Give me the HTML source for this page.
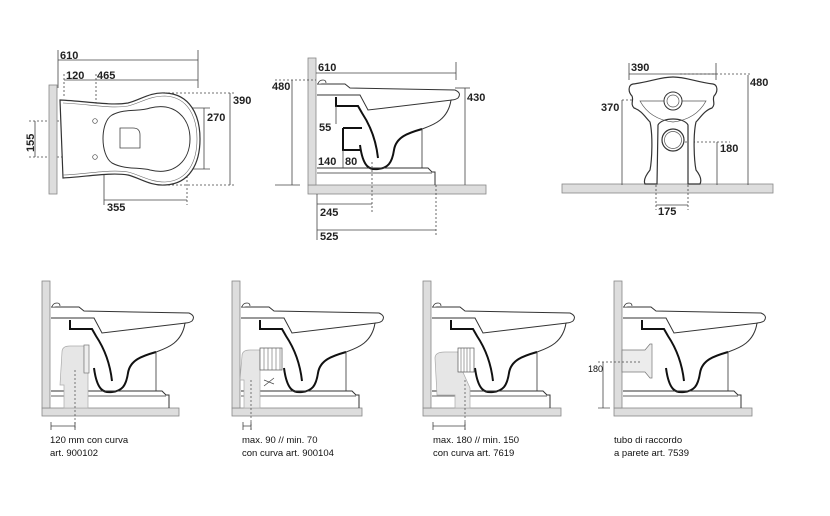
<!DOCTYPE html>
<html><head><meta charset="utf-8"><style>
html,body{margin:0;padding:0;background:#fff}
svg{display:block}
text{font-family:"Liberation Sans",Arial,sans-serif;font-weight:bold;fill:#222}
.d{font-size:11px}
.l{font-size:9.5px;font-weight:normal;fill:#111}
</style></head><body>
<svg width="830" height="516" viewBox="0 0 830 516" xmlns="http://www.w3.org/2000/svg">
<defs>
<g id="wc">
  <path d="M9,-101 L37,-101 L42,-97 L147,-95 Q154,-92 150,-87 Q147,-85 143,-85 C140,-65 125,-60 114,-56 L114,-17 L9,-17 Z" fill="#fff" stroke="none"/>
  <path d="M9,-101 L37,-101 L42,-97 L147,-95 Q154,-92 150,-87 Q147,-85 143,-85" fill="none" stroke="#333" stroke-width="1"/>
  <path d="M10,-101 q1,-4 5,-4 q3,0 3,3" fill="#fff" stroke="#333" stroke-width="0.8"/>
  <path d="M9,-90 L52,-90 L60,-75 L144,-85" fill="none" stroke="#333" stroke-width="1"/>
  <path d="M143,-85 C140,-65 125,-60 114,-56" fill="none" stroke="#333" stroke-width="1"/>
  <path d="M28,-88 L28,-79 L50,-79 L54,-72 C62,-60 68,-45 70,-27" fill="none" stroke="#111" stroke-width="2"/>
  <path d="M52,-40 C55,-17 62,-15 70,-16 C80,-17 84,-22 86,-35 C88,-48 100,-52 114,-56" fill="none" stroke="#111" stroke-width="2"/>
  <path d="M114,-56 L114,-17" fill="none" stroke="#333" stroke-width="0.8"/>
  <path d="M9,-17 L120,-17 L124,-13 L127,-13 L127,0" fill="none" stroke="#333" stroke-width="1"/>
  <path d="M9,-12 L124,-12" fill="none" stroke="#333" stroke-width="0.8"/>
  <rect x="0" y="-127" width="8" height="127" fill="#ddd" stroke="#888" stroke-width="0.8"/>
</g>
</defs>

<!-- PLAN VIEW -->
<g stroke="#444" stroke-width="0.8" fill="none">
  <line x1="58" y1="50" x2="58" y2="88"/><line x1="198" y1="50" x2="198" y2="88"/>
  <line x1="58" y1="60" x2="198" y2="60"/>
  <line x1="64" y1="80" x2="198" y2="80"/>
  <line x1="64" y1="74" x2="64" y2="96" stroke-dasharray="2,2"/>
  <line x1="96" y1="74" x2="96" y2="118" stroke-dasharray="2,2"/>
  <line x1="29" y1="121" x2="92" y2="121" stroke-dasharray="2,2"/>
  <line x1="29" y1="157" x2="92" y2="157" stroke-dasharray="2,2"/>
  <line x1="35" y1="121" x2="35" y2="157"/>
  <line x1="160" y1="93" x2="235" y2="93" stroke-dasharray="2,2"/>
  <line x1="160" y1="185" x2="235" y2="185" stroke-dasharray="2,2"/>
  <line x1="230" y1="93" x2="230" y2="185"/>
  <line x1="190" y1="108" x2="210" y2="108"/>
  <line x1="190" y1="169" x2="210" y2="169"/>
  <line x1="204" y1="108" x2="204" y2="169"/>
  <line x1="104" y1="160" x2="104" y2="205"/>
  <line x1="187" y1="140" x2="187" y2="205" stroke-dasharray="2,2"/>
  <line x1="104" y1="200" x2="187" y2="200"/>
</g>
<rect x="49" y="85" width="8" height="109" fill="#ddd" stroke="#888" stroke-width="0.8"/>
<path d="M60,100 C85,101 110,106 128,103 C140,100 150,92 165,93 C190,94 200,115 200,139 C200,163 190,184 165,185 C150,186 140,178 128,175 C110,172 85,177 63,178 Z" fill="#fff" stroke="#333" stroke-width="1.2"/>
<path d="M63,103 C88,104 110,109 128,106 C140,103 150,96 165,96 C188,97 197,117 197,139 C197,161 188,181 165,182 C150,182 140,175 128,172 C110,169 88,174 63,175" fill="none" stroke="#666" stroke-width="0.6"/>
<path d="M112,115 C125,108 140,112 150,108 C175,102 190,118 190,139 C190,160 175,176 150,170 C140,167 125,170 112,163 C100,155 100,122 112,115 Z" fill="#fff" stroke="#333" stroke-width="1"/>
<path d="M120,128 L133,128 Q140,128 140,135 L140,148 L120,148 Z" fill="none" stroke="#444" stroke-width="0.8"/>
<circle cx="95" cy="121" r="2.3" fill="#fff" stroke="#444" stroke-width="0.7"/>
<circle cx="95" cy="157" r="2.3" fill="#fff" stroke="#444" stroke-width="0.7"/>
<text class="d" x="60" y="59">610</text>
<text class="d" x="66" y="79">120</text>
<text class="d" x="97" y="79">465</text>
<text class="d" x="233" y="104">390</text>
<text class="d" x="207" y="121">270</text>
<text class="d" x="107" y="211">355</text>
<text class="d" transform="translate(34,152) rotate(-90)">155</text>

<!-- SIDE VIEW TOP -->
<rect x="308" y="185" width="178" height="9" fill="#ddd" stroke="#888" stroke-width="0.8"/>
<use href="#wc" transform="translate(308,185)"/>
<path d="M343,128 L362,128 M343,128 L343,150 L360,150" fill="none" stroke="#111" stroke-width="2"/>
<g stroke="#444" stroke-width="0.8" fill="none">
  <line x1="316" y1="73" x2="456" y2="73"/><line x1="456" y1="62" x2="456" y2="80"/>
  <line x1="275" y1="80" x2="316" y2="80" stroke-dasharray="2,2"/>
  <line x1="292" y1="80" x2="292" y2="185"/>
  <line x1="275" y1="185" x2="300" y2="185"/>
  <line x1="455" y1="88" x2="470" y2="88"/>
  <line x1="465" y1="88" x2="465" y2="185"/>
  <line x1="336" y1="106" x2="336" y2="124"/>
  <line x1="343" y1="150" x2="343" y2="168"/>
  <line x1="372" y1="162" x2="372" y2="212" stroke-dasharray="2,2"/>
  <line x1="436" y1="185" x2="436" y2="236" stroke-dasharray="2,2"/>
  <line x1="317" y1="194" x2="317" y2="240"/>
  <line x1="317" y1="204" x2="372" y2="204"/>
  <line x1="317" y1="230" x2="436" y2="230"/>
</g>
<text class="d" x="318" y="71">610</text>
<text class="d" x="272" y="90">480</text>
<text class="d" x="467" y="101">430</text>
<text class="d" x="319" y="131">55</text>
<text class="d" x="318" y="165">140</text>
<text class="d" x="345" y="165">80</text>
<text class="d" x="320" y="216">245</text>
<text class="d" x="320" y="240">525</text>

<!-- FRONT VIEW -->
<rect x="562" y="184" width="211" height="9" fill="#ddd" stroke="#888" stroke-width="0.8"/>
<g stroke="#444" stroke-width="0.8" fill="none">
  <line x1="629" y1="63" x2="629" y2="80"/><line x1="716" y1="63" x2="716" y2="80"/>
  <line x1="629" y1="74" x2="716" y2="74"/>
  <line x1="680" y1="74" x2="752" y2="74" stroke-dasharray="2,2"/>
  <line x1="748" y1="75" x2="748" y2="185"/>
  <line x1="622" y1="100" x2="622" y2="185"/>
  <line x1="622" y1="100" x2="673" y2="100" stroke-dasharray="2,2"/>
  <line x1="673" y1="142" x2="730" y2="142" stroke-dasharray="2,2"/>
  <line x1="717" y1="142" x2="717" y2="185"/>
  <line x1="656" y1="185" x2="656" y2="210" stroke-dasharray="2,2"/>
  <line x1="688" y1="185" x2="688" y2="210" stroke-dasharray="2,2"/>
  <line x1="656" y1="205" x2="688" y2="205"/>
</g>
<path d="M633,84 C650,82 660,77 673,77 C686,77 696,82 713,84 C718,85 718,92 714,96 C712,100 716,104 712,108 C705,110 700,118 696,122 C693,135 694,160 696,170 C700,175 702,180 700,184 L688,184 L688,125 C684,117 662,117 658,125 L657,184 L645,184 C643,180 646,175 650,170 C652,160 653,135 650,122 C646,118 641,110 634,108 C630,104 634,100 632,96 C628,92 628,85 633,84 Z" fill="#fff" stroke="#333" stroke-width="1.2"/>
<path d="M640,101 L706,101 C700,112 690,120 673,122 C656,120 646,112 640,101 Z" fill="none" stroke="#555" stroke-width="0.7"/>
<circle cx="673" cy="101" r="9" fill="#fff" stroke="#333" stroke-width="1"/>
<circle cx="673" cy="101" r="6" fill="none" stroke="#555" stroke-width="0.7"/>
<circle cx="673" cy="140" r="11" fill="#fff" stroke="#333" stroke-width="1.2"/>
<circle cx="673" cy="140" r="8.5" fill="none" stroke="#555" stroke-width="0.7"/>
<text class="d" x="631" y="71">390</text>
<text class="d" x="750" y="86">480</text>
<text class="d" x="601" y="111">370</text>
<text class="d" x="720" y="152">180</text>
<text class="d" x="658" y="215">175</text>

<!-- BOTTOM PANELS -->
<rect x="42" y="408" width="137" height="8" fill="#ddd" stroke="#888" stroke-width="0.8"/>
<use href="#wc" transform="translate(42,408)"/>
<path d="M62,352 Q62,346 70,346 L84,346 L84,372 L88,372 L88,408 L64,408 L64,385 L60,385 Z" fill="#e6e6e6" stroke="#aaa" stroke-width="0.7"/>
<rect x="84" y="345" width="5" height="28" fill="#eee" stroke="#777" stroke-width="0.7"/>
<line x1="75" y1="370" x2="75" y2="428" stroke="#444" stroke-width="0.7" stroke-dasharray="2,2"/>
<path d="M51,422 L51,430 M51,426 L75,426 M75,422 L75,430" stroke="#444" stroke-width="0.8"/>
<text class="l" x="50" y="443">120 mm con curva</text>
<text class="l" x="50" y="456">art. 900102</text>

<rect x="232" y="408" width="130" height="8" fill="#ddd" stroke="#888" stroke-width="0.8"/>
<use href="#wc" transform="translate(232,408)"/>
<path d="M242,356 Q242,350 250,350 L260,350 L260,408 L244,408 L244,380 L240,380 Z" fill="#e6e6e6" stroke="#aaa" stroke-width="0.7"/>
<rect x="260" y="348" width="22" height="22" fill="#fff" stroke="#555" stroke-width="0.7"/>
<g stroke="#666" stroke-width="0.6"><line x1="264" y1="348" x2="264" y2="370"/><line x1="268" y1="348" x2="268" y2="370"/><line x1="272" y1="348" x2="272" y2="370"/><line x1="276" y1="348" x2="276" y2="370"/><line x1="280" y1="348" x2="280" y2="370"/></g>
<path d="M264,386 L274,378 M264,380 L274,384" stroke="#444" stroke-width="0.7"/>
<line x1="251" y1="380" x2="251" y2="430" stroke="#444" stroke-width="0.7" stroke-dasharray="2,2"/>
<path d="M243,422 L243,430 M243,426 L251,426 M251,422 L251,430" stroke="#444" stroke-width="0.8"/>
<text class="l" x="242" y="443">max. 90 // min. 70</text>
<text class="l" x="242" y="456">con curva art. 900104</text>

<rect x="423" y="408" width="138" height="8" fill="#ddd" stroke="#888" stroke-width="0.8"/>
<use href="#wc" transform="translate(423,408)"/>
<path d="M435,358 Q435,352 445,352 L462,352 L462,370 L470,388 L470,408 L455,408 L455,395 L437,395 Z" fill="#e6e6e6" stroke="#aaa" stroke-width="0.7"/>
<rect x="458" y="348" width="16" height="24" fill="#fff" stroke="#555" stroke-width="0.7"/>
<g stroke="#666" stroke-width="0.6"><line x1="461" y1="348" x2="461" y2="372"/><line x1="464" y1="348" x2="464" y2="372"/><line x1="467" y1="348" x2="467" y2="372"/><line x1="470" y1="348" x2="470" y2="372"/></g>
<line x1="465" y1="380" x2="465" y2="430" stroke="#444" stroke-width="0.7" stroke-dasharray="2,2"/>
<path d="M433,422 L433,430 M433,426 L465,426 M465,422 L465,430" stroke="#444" stroke-width="0.8"/>
<text class="l" x="433" y="443">max. 180 // min. 150</text>
<text class="l" x="433" y="456">con curva art. 7619</text>

<rect x="614" y="408" width="138" height="8" fill="#ddd" stroke="#888" stroke-width="0.8"/>
<use href="#wc" transform="translate(614,408)"/>
<path d="M622,350 L645,350 L650,344 L652,344 L652,378 L650,378 L645,372 L622,372 Z" fill="#ececec" stroke="#777" stroke-width="0.7"/>
<line x1="598" y1="362" x2="640" y2="362" stroke="#444" stroke-width="0.7" stroke-dasharray="2,2"/>
<line x1="598" y1="408" x2="610" y2="408" stroke="#444" stroke-width="0.7"/>
<line x1="603" y1="362" x2="603" y2="408" stroke="#444" stroke-width="0.8"/>
<text class="l" x="588" y="372" style="font-size:9px">180</text>
<text class="l" x="614" y="443">tubo di raccordo</text>
<text class="l" x="614" y="456">a parete art. 7539</text>
</svg>
</body></html>
